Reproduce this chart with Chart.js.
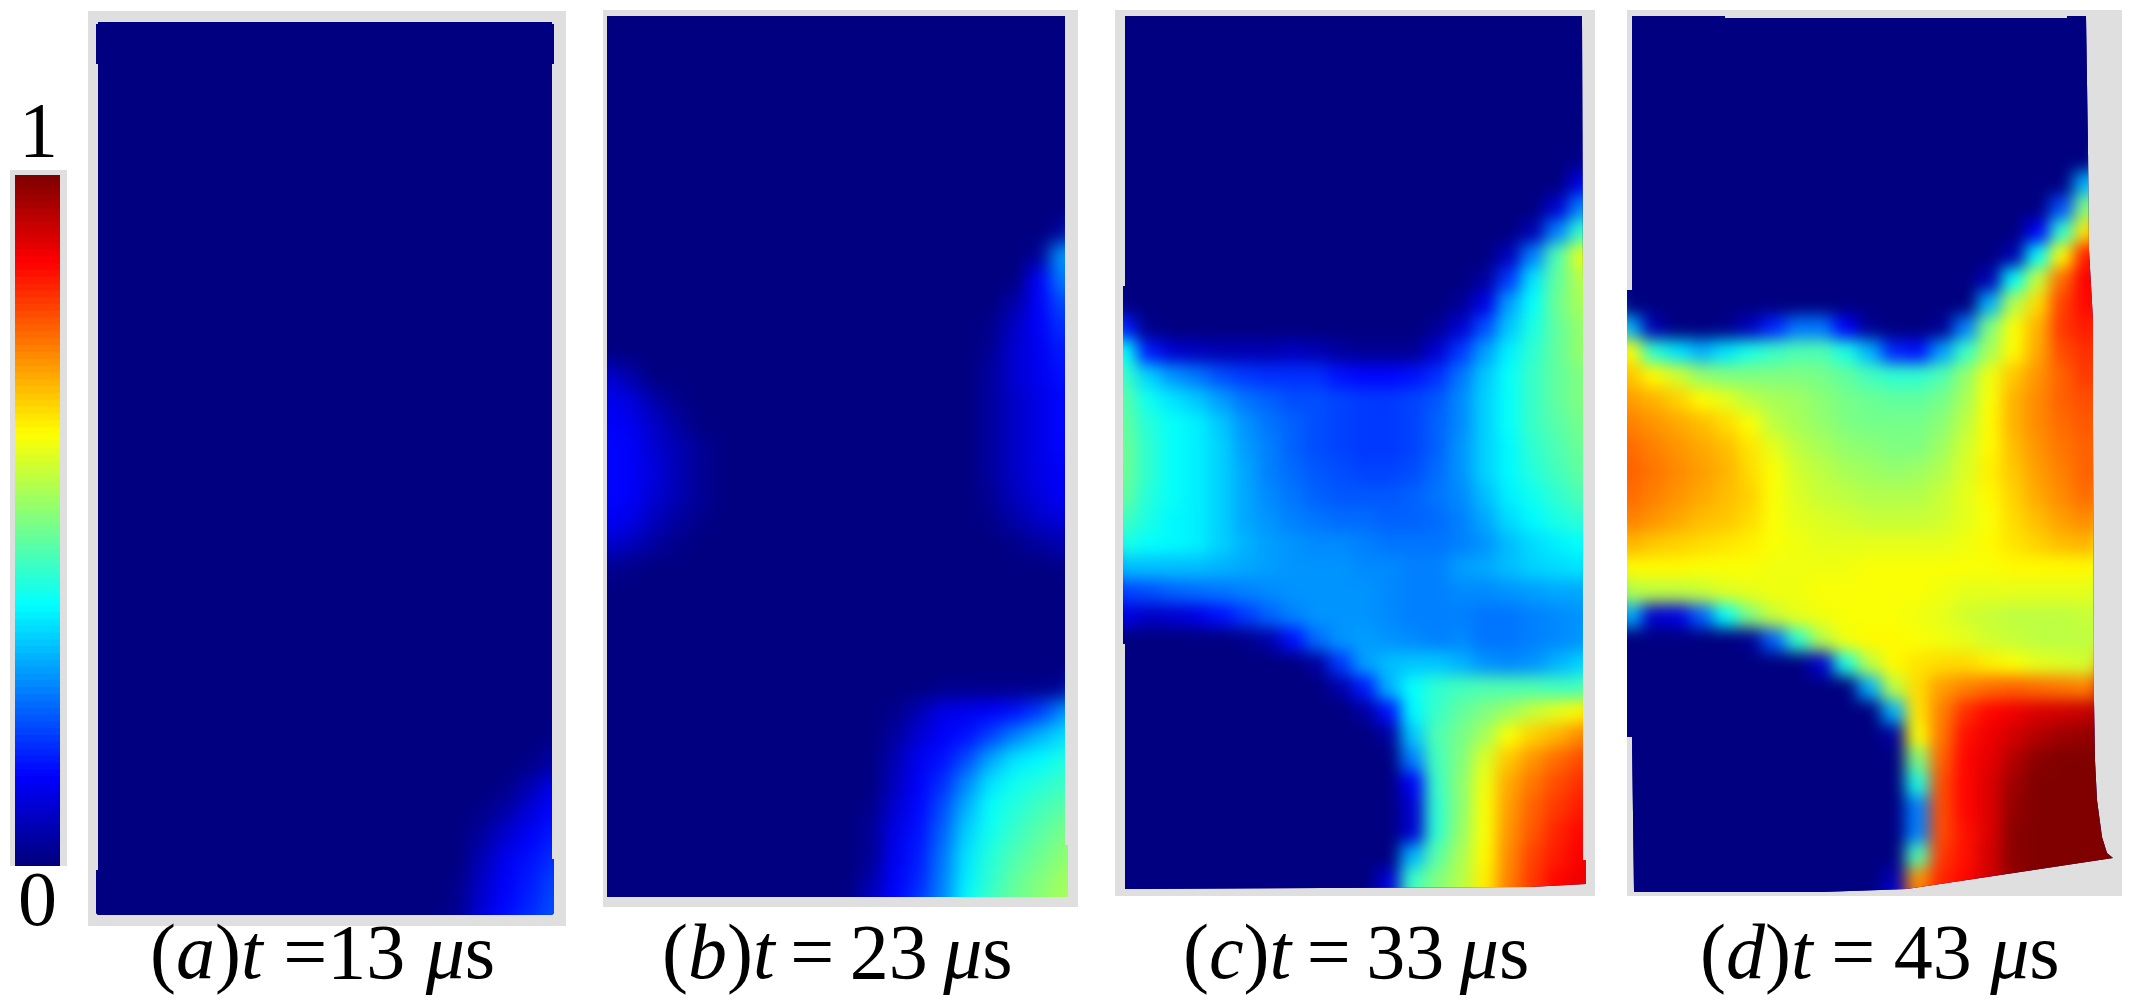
<!DOCTYPE html>
<html><head><meta charset="utf-8">
<script src="https://cdn.jsdelivr.net/npm/chart.js@4"></script>
<style>
html,body{margin:0;padding:0;background:#fff;width:2140px;height:1007px;overflow:hidden}
.gray{position:absolute;background:#dfdfdf}
.clip{position:absolute;left:0;top:0;width:2140px;height:1007px;background:#000082}
.txt{position:absolute;font-family:"Liberation Serif",serif;font-size:78px;line-height:1;color:#000;white-space:nowrap}
canvas{position:absolute;display:block}
</style></head><body>
<div id="root"></div>
<script>
// Colorbar levels (percent), top to bottom, and its tick labels
const colorbarLevels=[100,99,98,97,96,95,94,93,92,91,90,89,88,87,86,85,84,83,82,81,80,79,78,77,76,75,74,73,72,71,70,69,68,67,66,65,64,63,62,61,60,59,58,57,56,55,54,53,52,51,50,49,48,47,46,45,44,43,42,41,40,39,38,37,36,35,34,33,32,31,30,29,28,27,26,25,24,23,22,21,20,19,18,17,16,15,14,13,12,11,10,9,8,7,6,5,4,3,2,1,0];
const colorbarTicks=['1','0'];
// Panel captions
const panelLetters=['a','b','c','d'];
const panelTimes=['13','23','33','43'];

// Field values in percent of full scale (rows top to bottom)
const panelA=[
[0,0,0,0,0,0,0,0,0,0,0,0,0,0,0,0,0,0,0,0],[0,0,0,0,0,0,0,0,0,0,0,0,0,0,0,0,0,0,0,0],[0,0,0,0,0,0,0,0,0,0,0,0,0,0,0,0,0,0,0,0],[0,0,0,0,0,0,0,0,0,0,0,0,0,0,0,0,0,0,0,0],
[0,0,0,0,0,0,0,0,0,0,0,0,0,0,0,0,0,0,0,0],[0,0,0,0,0,0,0,0,0,0,0,0,0,0,0,0,0,0,0,0],[0,0,0,0,0,0,0,0,0,0,0,0,0,0,0,0,0,0,0,0],[0,0,0,0,0,0,0,0,0,0,0,0,0,0,0,0,0,0,0,0],
[0,0,0,0,0,0,0,0,0,0,0,0,0,0,0,0,0,0,0,0],[0,0,0,0,0,0,0,0,0,0,0,0,0,0,0,0,0,0,0,0],[0,0,0,0,0,0,0,0,0,0,0,0,0,0,0,0,0,0,0,0],[0,0,0,0,0,0,0,0,0,0,0,0,0,0,0,0,0,0,0,0],
[0,0,0,0,0,0,0,0,0,0,0,0,0,0,0,0,0,0,0,0],[0,0,0,0,0,0,0,0,0,0,0,0,0,0,0,0,0,0,0,0],[0,0,0,0,0,0,0,0,0,0,0,0,0,0,0,0,0,0,0,0],[0,0,0,0,0,0,0,0,0,0,0,0,0,0,0,0,0,0,0,0],
[0,0,0,0,0,0,0,0,0,0,0,0,0,0,0,0,0,0,0,0],[0,0,0,0,0,0,0,0,0,0,0,0,0,0,0,0,0,0,0,0],[0,0,0,0,0,0,0,0,0,0,0,0,0,0,0,0,0,0,0,0],[0,0,0,0,0,0,0,0,0,0,0,0,0,0,0,0,0,0,0,0],
[0,0,0,0,0,0,0,0,0,0,0,0,0,0,0,0,0,0,0,0],[0,0,0,0,0,0,0,0,0,0,0,0,0,0,0,0,0,0,0,0],[0,0,0,0,0,0,0,0,0,0,0,0,0,0,0,0,0,0,0,0],[0,0,0,0,0,0,0,0,0,0,0,0,0,0,0,0,0,0,0,0],
[0,0,0,0,0,0,0,0,0,0,0,0,0,0,0,0,0,0,0,0],[0,0,0,0,0,0,0,0,0,0,0,0,0,0,0,0,0,0,0,0],[0,0,0,0,0,0,0,0,0,0,0,0,0,0,0,0,0,0,0,0],[0,0,0,0,0,0,0,0,0,0,0,0,0,0,0,0,0,0,0,0],
[0,0,0,0,0,0,0,0,0,0,0,0,0,0,0,0,0,0,0,0],[0,0,0,0,0,0,0,0,0,0,0,0,0,0,0,0,0,0,0,0],
[0,0,0,0,0,0,0,0,0,0,0,0,0,0,0,0,0,0,0,1],
[0,0,0,0,0,0,0,0,0,0,0,0,0,0,0,0,0,0,1,4],
[0,0,0,0,0,0,0,0,0,0,0,0,0,0,0,0,0,1,5,11],
[0,0,0,0,0,0,0,0,0,0,0,0,0,0,0,0,1,4,9,13],
[0,0,0,0,0,0,0,0,0,0,0,0,0,0,0,0,3,8,12,15],
[0,0,0,0,0,0,0,0,0,0,0,0,0,0,0,0,5,11,14,17],
[0,0,0,0,0,0,0,0,0,0,0,0,0,0,0,1,7,12,15,19],
[0,0,0,0,0,0,0,0,0,0,0,0,0,0,0,1,8,13,16,20]];

const panelB=[
[0,0,0,0,0,0,0,0,0,0,0,0,0,0,0,0,0,0,0,0],[0,0,0,0,0,0,0,0,0,0,0,0,0,0,0,0,0,0,0,0],[0,0,0,0,0,0,0,0,0,0,0,0,0,0,0,0,0,0,0,0],[0,0,0,0,0,0,0,0,0,0,0,0,0,0,0,0,0,0,0,0],
[0,0,0,0,0,0,0,0,0,0,0,0,0,0,0,0,0,0,0,0],[0,0,0,0,0,0,0,0,0,0,0,0,0,0,0,0,0,0,0,0],[0,0,0,0,0,0,0,0,0,0,0,0,0,0,0,0,0,0,0,0],[0,0,0,0,0,0,0,0,0,0,0,0,0,0,0,0,0,0,0,0],
[0,0,0,0,0,0,0,0,0,0,0,0,0,0,0,0,0,0,0,0],
[0,0,0,0,0,0,0,0,0,0,0,0,0,0,0,0,0,0,0,3],
[0,0,0,0,0,0,0,0,0,0,0,0,0,0,0,0,0,0,2,28],
[0,0,0,0,0,0,0,0,0,0,0,0,0,0,0,0,0,0,12,25],
[0,0,0,0,0,0,0,0,0,0,0,0,0,0,0,0,0,4,12,20],
[0,0,0,0,0,0,0,0,0,0,0,0,0,0,0,0,1,7,12,17],
[0,0,0,0,0,0,0,0,0,0,0,0,0,0,0,0,2,8,11,15],
[8,4,0,0,0,0,0,0,0,0,0,0,0,0,0,0,3,8,11,14],
[11,9,4,1,0,0,0,0,0,0,0,0,0,0,0,0,3,7,10,13],
[12,11,7,3,0,0,0,0,0,0,0,0,0,0,0,0,3,7,10,13],
[13,12,8,5,2,0,0,0,0,0,0,0,0,0,0,0,3,7,10,13],
[13,12,9,5,2,0,0,0,0,0,0,0,0,0,0,0,3,7,10,12],
[13,12,8,5,2,0,0,0,0,0,0,0,0,0,0,0,2,6,9,12],
[12,10,6,3,1,0,0,0,0,0,0,0,0,0,0,0,1,4,7,9],
[8,6,3,1,0,0,0,0,0,0,0,0,0,0,0,0,0,1,3,5],
[2,1,0,0,0,0,0,0,0,0,0,0,0,0,0,0,0,0,0,1],
[0,0,0,0,0,0,0,0,0,0,0,0,0,0,0,0,0,0,0,0],[0,0,0,0,0,0,0,0,0,0,0,0,0,0,0,0,0,0,0,0],[0,0,0,0,0,0,0,0,0,0,0,0,0,0,0,0,0,0,0,0],[0,0,0,0,0,0,0,0,0,0,0,0,0,0,0,0,0,0,0,0],
[0,0,0,0,0,0,0,0,0,0,0,0,0,0,1,1,1,1,1,2],
[0,0,0,0,0,0,0,0,0,0,0,0,1,5,10,11,12,14,18,26],
[0,0,0,0,0,0,0,0,0,0,0,0,3,8,12,14,19,25,30,34],
[0,0,0,0,0,0,0,0,0,0,0,0,5,11,14,20,29,35,37,40],
[0,0,0,0,0,0,0,0,0,0,0,0,6,12,17,26,35,39,41,43],
[0,0,0,0,0,0,0,0,0,0,0,1,8,13,20,30,38,41,44,46],
[0,0,0,0,0,0,0,0,0,0,0,2,10,14,22,33,39,43,46,49],
[0,0,0,0,0,0,0,0,0,0,0,2,11,15,24,35,41,45,48,51],
[0,0,0,0,0,0,0,0,0,0,0,4,12,16,25,36,42,47,50,53],
[0,0,0,0,0,0,0,0,0,0,0,7,13,18,26,38,44,48,51,54]];

const panelC=[
[0,0,0,0,0,0,0,0,0,0,0,0,0,0,0,0,0,0,0,0],[0,0,0,0,0,0,0,0,0,0,0,0,0,0,0,0,0,0,0,0],[0,0,0,0,0,0,0,0,0,0,0,0,0,0,0,0,0,0,0,0],[0,0,0,0,0,0,0,0,0,0,0,0,0,0,0,0,0,0,0,0],
[0,0,0,0,0,0,0,0,0,0,0,0,0,0,0,0,0,0,0,0],[0,0,0,0,0,0,0,0,0,0,0,0,0,0,0,0,0,0,0,0],[0,0,0,0,0,0,0,0,0,0,0,0,0,0,0,0,0,0,0,1],
[0,0,0,0,0,0,0,0,0,0,0,0,0,0,0,0,0,0,0,10],
[0,0,0,0,0,0,0,0,0,0,0,0,0,0,0,0,0,0,8,25],
[0,0,0,0,0,0,0,0,0,0,0,0,0,0,0,0,0,5,25,42],
[0,0,0,0,0,0,0,0,0,0,0,0,0,0,0,0,6,25,45,60],
[0,0,0,0,0,0,0,0,0,0,0,0,0,0,0,3,18,35,47,55],
[0,0,0,0,0,0,0,0,0,0,0,0,0,0,2,10,28,38,48,54],
[15,1,0,0,0,0,0,0,0,0,0,0,0,2,8,20,32,40,47,52],
[38,15,8,6,5,5,5,6,5,3,2,2,2,8,18,28,36,42,47,52],
[43,33,27,24,20,18,17,17,17,14,13,13,14,17,24,32,38,43,47,50],
[46,39,35,32,28,24,22,20,20,19,18,18,19,21,26,33,38,43,47,50],
[47,41,38,36,32,27,24,22,20,19,18,18,19,22,26,33,38,43,46,49],
[48,42,38,36,33,28,25,22,20,19,18,18,19,22,27,33,37,42,45,48],
[48,42,38,36,33,29,25,23,21,20,19,19,20,23,27,33,37,41,44,47],
[47,41,38,36,33,29,26,24,22,21,21,21,22,24,26,31,36,39,42,45],
[44,40,37,36,33,29,27,25,24,23,23,22,22,23,25,29,34,37,40,42],
[40,38,37,36,33,30,28,27,26,26,25,24,24,24,25,27,31,34,36,38],
[31,31,31,31,30,29,28,27,27,27,26,26,25,25,28,29,31,33,34,35],
[19,20,22,23,24,25,26,27,27,27,27,26,25,25,26,26,27,28,29,29],
[10,7,8,10,14,18,22,25,27,27,27,26,25,25,25,24,24,25,26,27],
[0,0,0,0,0,1,4,14,23,27,28,27,26,25,26,24,24,25,26,27],
[0,0,0,0,0,0,0,0,3,18,28,31,32,32,30,27,26,27,30,33],
[0,0,0,0,0,0,0,0,0,4,15,30,38,42,44,45,45,45,44,44],
[0,0,0,0,0,0,0,0,0,0,3,14,37,43,47,50,53,57,60,63],
[0,0,0,0,0,0,0,0,0,0,0,3,32,45,49,54,62,67,70,74],
[0,0,0,0,0,0,0,0,0,0,0,0,25,44,50,59,68,73,77,80],
[0,0,0,0,0,0,0,0,0,0,0,0,12,43,51,61,71,76,80,83],
[0,0,0,0,0,0,0,0,0,0,0,0,8,42,51,62,72,78,82,85],
[0,0,0,0,0,0,0,0,0,0,0,0,8,42,52,62,73,79,84,87],
[0,0,0,0,0,0,0,0,0,0,0,0,30,46,54,63,74,81,85,88],
[0,0,0,0,0,0,0,0,0,0,0,8,43,50,55,64,75,82,87,89],
[0,0,0,0,0,0,0,0,0,0,0,14,45,51,56,65,76,83,88,90]];

const panelD=[
[0,0,0,0,0,0,0,0,0,0,0,0,0,0,0,0,0,0,0,0],[0,0,0,0,0,0,0,0,0,0,0,0,0,0,0,0,0,0,0,0],[0,0,0,0,0,0,0,0,0,0,0,0,0,0,0,0,0,0,0,0],[0,0,0,0,0,0,0,0,0,0,0,0,0,0,0,0,0,0,0,0],
[0,0,0,0,0,0,0,0,0,0,0,0,0,0,0,0,0,0,0,0],[0,0,0,0,0,0,0,0,0,0,0,0,0,0,0,0,0,0,0,0],[0,0,0,0,0,0,0,0,0,0,0,0,0,0,0,0,0,0,0,0],
[0,0,0,0,0,0,0,0,0,0,0,0,0,0,0,0,0,0,0,30],
[0,0,0,0,0,0,0,0,0,0,0,0,0,0,0,0,0,0,20,50],
[0,0,0,0,0,0,0,0,0,0,0,0,0,0,0,0,0,12,42,65],
[0,0,0,0,0,0,0,0,0,0,0,0,0,0,0,0,5,38,63,85],
[0,0,0,0,0,0,0,0,0,0,0,0,0,0,0,5,38,57,77,88],
[0,0,0,0,0,0,0,0,0,0,0,0,0,0,0,30,55,66,81,87],
[30,5,0,0,1,6,16,24,24,12,2,0,0,2,25,50,62,70,82,85],
[62,42,35,30,35,40,43,45,45,40,30,16,14,28,43,54,63,71,80,83],
[68,63,58,52,50,50,50,50,49,47,44,42,42,45,52,61,68,73,78,82],
[72,70,67,63,60,56,54,53,51,49,48,47,47,49,54,62,70,74,78,80],
[75,73,71,69,66,62,56,54,52,50,49,49,49,51,56,63,70,74,77,79],
[77,75,73,71,69,65,60,56,54,52,51,50,50,53,58,63,69,73,76,78],
[78,76,74,72,70,66,62,58,56,54,53,52,53,55,59,64,68,72,75,78],
[77,75,73,71,69,67,62,59,57,56,55,55,55,57,60,63,67,71,74,77],
[75,73,71,69,68,66,62,60,59,58,57,57,57,58,60,62,66,69,72,74],
[70,68,67,66,65,64,62,61,60,60,60,60,60,60,61,63,65,67,69,70],
[63,63,63,62,62,62,61,61,61,61,62,62,62,62,62,62,63,63,63,63],
[55,56,56,57,59,60,61,61,62,62,62,62,62,61,60,60,60,60,60,60],
[30,8,10,22,38,50,57,60,61,62,62,62,61,60,58,57,56,56,56,57],
[0,0,0,0,0,2,22,42,55,61,63,63,62,61,60,58,57,56,56,56],
[0,0,0,0,0,0,0,0,8,40,56,63,65,66,66,64,62,60,59,58],
[0,0,0,0,0,0,0,0,0,0,30,56,66,72,75,77,78,77,76,75],
[0,0,0,0,0,0,0,0,0,0,0,30,65,75,83,87,89,91,92,93],
[0,0,0,0,0,0,0,0,0,0,0,3,62,76,86,89,92,95,97,98],
[0,0,0,0,0,0,0,0,0,0,0,0,50,78,87,90,95,99,100,100],
[0,0,0,0,0,0,0,0,0,0,0,0,40,80,87,91,97,100,100,100],
[0,0,0,0,0,0,0,0,0,0,0,0,25,80,87,91,98,100,100,100],
[0,0,0,0,0,0,0,0,0,0,0,0,25,80,86,91,99,100,100,100],
[0,0,0,0,0,0,0,0,0,0,0,0,45,82,86,92,99,100,100,100],
[0,0,0,0,0,0,0,0,0,0,0,5,73,84,87,92,98,100,100,100],
[0,0,0,0,0,0,0,0,0,0,0,12,78,85,88,92,98,100,100,100]];

// Layout
const CELL=24, PAD=60;
const layouts=[
 {vals:panelA,ox:97,oy:22,blur:9,gray:[88,11,566,926],
  poly:[[98,22],[552,22],[552,24],[554,24],[554,64],[552,64],[552,859],[554,859],[554,913],[552,915],[98,915],[96,913],[96,870],[98,870],[98,64],[96,64],[96,24],[98,24]],cap:[150,1]},
 {vals:panelB,ox:607,oy:16,blur:9,gray:[603,10,1078,907],
  poly:[[607,16],[1065,16],[1065,845],[1068,845],[1068,897],[607,897]],cap:[662,-4]},
 {vals:panelC,ox:1125,oy:16,blur:8,gray:[1115,10,1595,896],
  poly:[[1125,16],[1582,16],[1583,286],[1583,860],[1586,860],[1586,884],[1530,887],[1125,889],[1125,644],[1123,644],[1123,286],[1125,286]],cap:[1183,-4]},
 {vals:panelD,ox:1630,oy:16,blur:8,gray:[1627,10,2122,896],
  poly:[[1634,16],[1725,16],[1725,18],[2067,18],[2067,16],[2086,16],[2088,150],[2089,250],[2093,320],[2093,420],[2094,700],[2095,760],[2097,800],[2102,837],[2107,853],[2113,858],[1907,889],[1820,892],[1634,892],[1632,737],[1627,737],[1627,290],[1632,290],[1632,16]],cap:[1700,-1]}
];

// Jet colormap (style mapping of a value to a colour)
function jet(p){
  const v=p/100;
  const c=x=>Math.round(255*Math.max(0,Math.min(1,x)));
  return `rgb(${c(Math.min(4*v-1.5,-4*v+4.5))},${c(Math.min(4*v-0.5,-4*v+3.5))},${c(Math.min(4*v+0.5,-4*v+2.5))})`;
}
const root=document.getElementById('root');
function el(cls,css,parent,html){const d=document.createElement('div');d.className=cls;d.style.cssText=css;(parent||root).appendChild(d);if(html!=null)d.innerHTML=html;return d;}

layouts.forEach((L,k)=>{
  const [x0,y0,x1,y1]=L.gray;
  el('gray',`left:${x0}px;top:${y0}px;width:${x1-x0}px;height:${y1-y0}px`);
  const clip=el('clip',`clip-path:polygon(${L.poly.map(p=>p[0]+'px '+p[1]+'px').join(',')})`);
  const rows=L.vals.length, cols=L.vals[0].length;
  const cv=document.createElement('canvas');
  const w=(cols-1)*CELL+2*PAD, h=(rows-1)*CELL+2*PAD;
  cv.width=w;cv.height=h;
  cv.style.cssText=`left:${L.ox-PAD}px;top:${L.oy-PAD}px;width:${w}px;height:${h}px;filter:blur(${L.blur}px)`;
  clip.appendChild(cv);
  const pts=[],edge=[];
  L.vals.forEach((row,j)=>row.forEach((v,i)=>{
    const p={x:i,y:j,v};pts.push(p);
    if(i===0||j===0||i===cols-1||j===rows-1)edge.push(p);
  }));
  const color=ctx=>jet(ctx.raw?ctx.raw.v:0);
  new Chart(cv,{type:'scatter',
    data:{datasets:[
      {data:pts,pointStyle:'rect',pointRadius:17.6,pointBorderWidth:0,backgroundColor:color,order:0},
      {data:edge,pointStyle:'rect',pointRadius:53,pointBorderWidth:0,backgroundColor:color,order:1}
    ]},
    options:{responsive:false,animation:false,devicePixelRatio:1,layout:{padding:0,autoPadding:false},
      events:[],
      plugins:{legend:{display:false},tooltip:{enabled:false},title:{display:false}},
      scales:{
        x:{type:'linear',display:false,min:-PAD/CELL,max:cols-1+PAD/CELL},
        y:{type:'linear',display:false,reverse:true,min:-PAD/CELL,max:rows-1+PAD/CELL}
      }}
  });
  el('txt',`left:${L.cap[0]}px;top:913px;word-spacing:${L.cap[1]}px`,null,
    `(<i>${panelLetters[k]}</i>)<i>t</i> =${k?' ':''}${panelTimes[k]} <i>μ</i>s`);
});

// Colorbar
el('gray','left:10px;top:170px;width:57px;height:696px');
const cb=document.createElement('canvas');
cb.width=45;cb.height=691;cb.style.cssText='left:15px;top:175px;width:45px;height:691px';
root.appendChild(cb);
new Chart(cb,{type:'bar',
  data:{labels:colorbarLevels.map(String),datasets:[{data:colorbarLevels.map(()=>1),backgroundColor:colorbarLevels.map(jet),borderWidth:0,barPercentage:1,categoryPercentage:1,inflateAmount:1}]},
  options:{indexAxis:'y',responsive:false,animation:false,devicePixelRatio:1,events:[],layout:{padding:0,autoPadding:false},
    plugins:{legend:{display:false},tooltip:{enabled:false}},
    scales:{x:{display:false,min:0,max:1},y:{display:false}}}
});
el('txt','left:19px;top:91px',null,colorbarTicks[0]);
el('txt','left:18px;top:860px',null,colorbarTicks[1]);
</script>
</body></html>
